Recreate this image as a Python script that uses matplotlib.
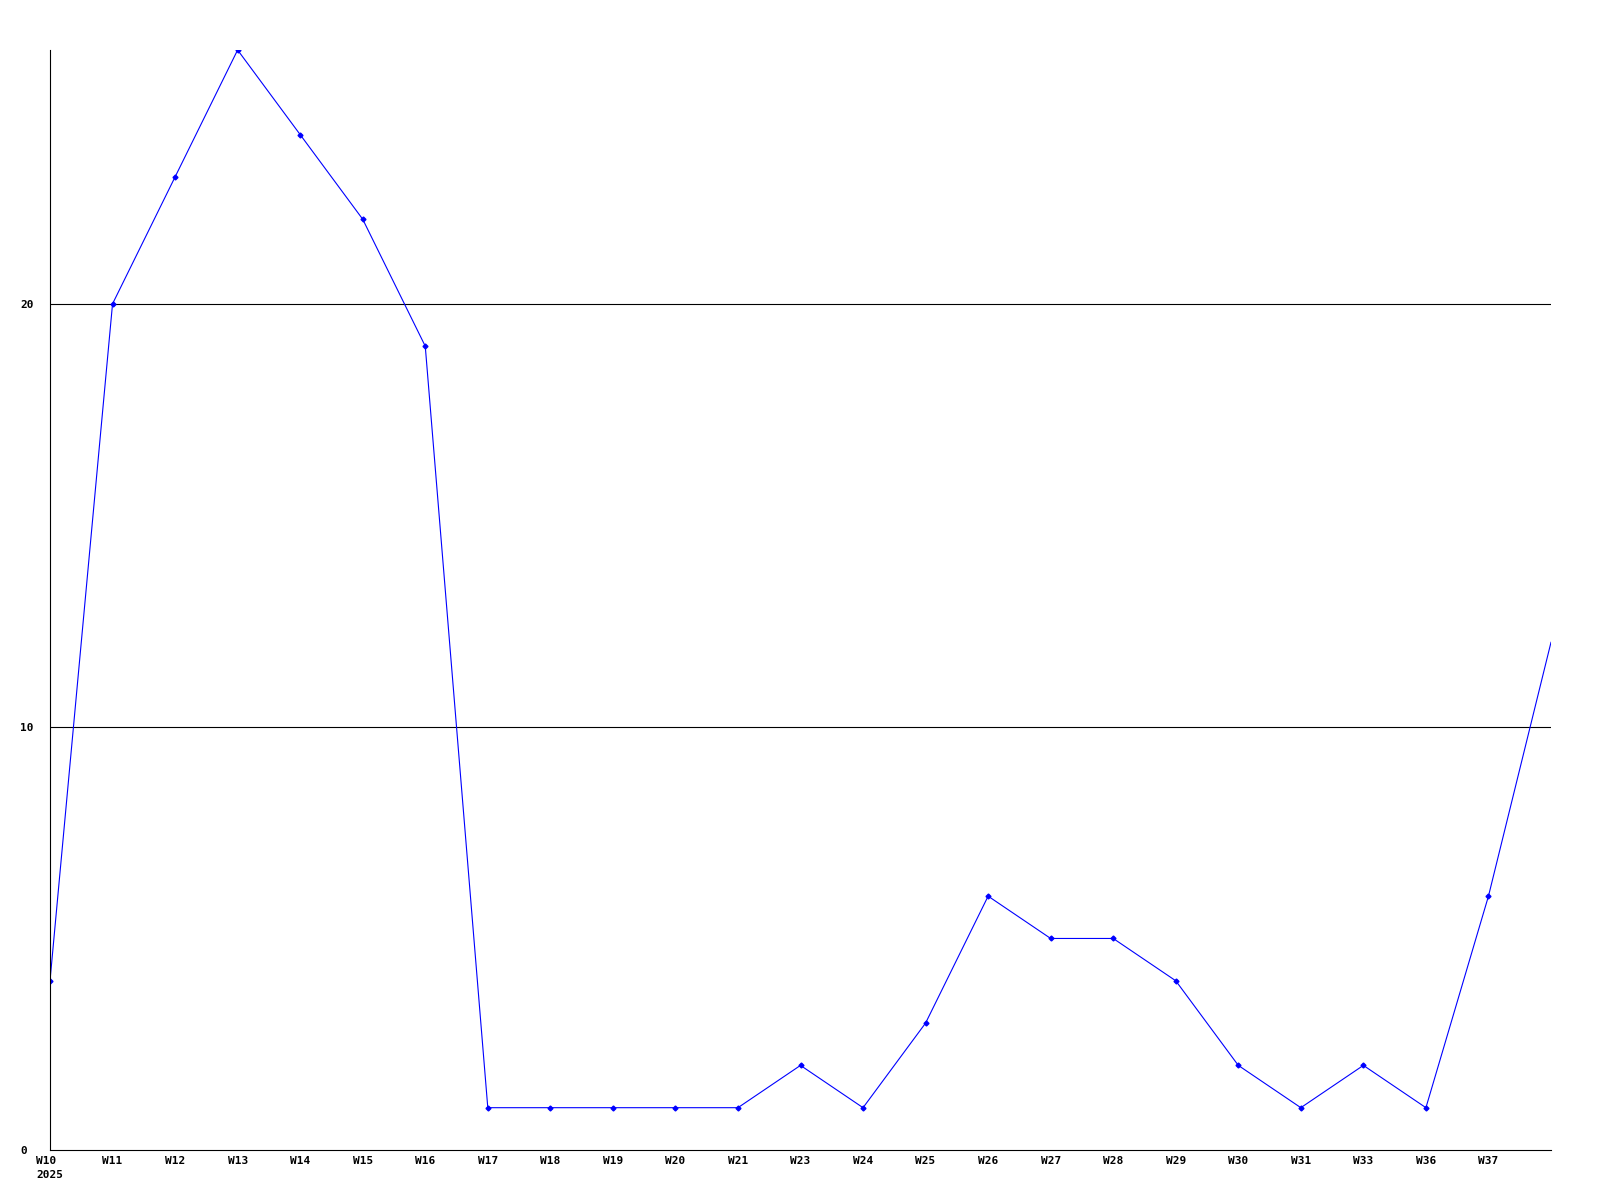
import matplotlib
matplotlib.use("Agg")
import matplotlib.pyplot as plt

labels = ["W10\n2025", "W11", "W12", "W13", "W14", "W15", "W16", "W17", "W18", "W19",
          "W20", "W21", "W23", "W24", "W25", "W26", "W27", "W28", "W29", "W30",
          "W31", "W33", "W36", "W37"]
values = [4, 20, 23, 26, 24, 22, 19, 1, 1, 1, 1, 1, 2, 1, 3, 6, 5, 5, 4, 2, 1, 2, 1, 6]
tail_value = 12  # next (unlabelled) point at the right edge

fig = plt.figure(figsize=(16, 12), dpi=100)
ax = fig.add_axes([50/1600, 50/1200, 1501/1600, 1100/1200])

xs = list(range(len(values) + 1))
ys = values + [tail_value]
ax.plot(xs, ys, color="#0000ff", lw=0.8, marker="D", markersize=2.5,
        markevery=list(range(len(values))), clip_on=True)

ax.set_xlim(0, len(values))
ax.set_ylim(0, 26)
for v in (10, 20):
    ax.axhline(v, color="black", lw=0.8, zorder=1)

for s in ("top", "right"):
    ax.spines[s].set_visible(False)
for s in ("left", "bottom"):
    ax.spines[s].set_color("black")
    ax.spines[s].set_linewidth(0.8)

font = dict(family="DejaVu Sans Mono", weight="bold", size=8)
ax.set_xticks(range(len(values)))
ax.set_xticklabels(labels, fontdict=font, multialignment="left", linespacing=1.5)
ax.set_yticks([0, 10, 20])
ax.set_yticklabels(["0", "10", "20"], fontdict=font)
ax.tick_params(axis="x", length=0, pad=4.5)
ax.tick_params(axis="y", length=0, pad=21.6)
for t in ax.get_yticklabels():
    t.set_horizontalalignment("left")

fig.savefig("out.png", dpi=100, facecolor="white")
